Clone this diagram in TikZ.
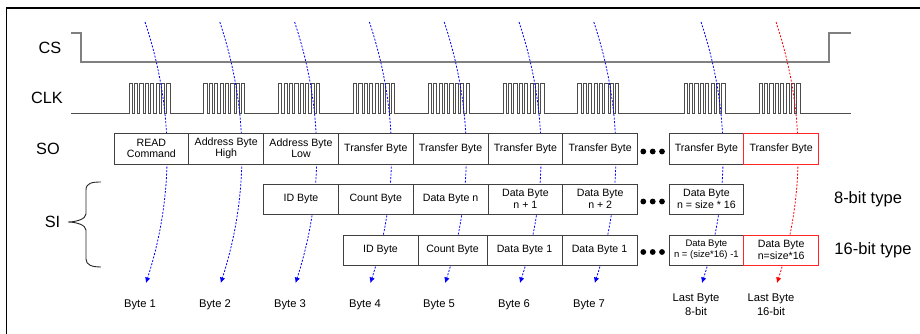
\documentclass[tikz,border=0pt]{standalone}
\usepackage{fontspec}
\setmainfont{Liberation Sans}
\usetikzlibrary{arrows.meta}

\tikzset{
  frame/.style={line width=1.3pt,black},
  csline/.style={line width=1.5pt,black!50},
  clkline/.style={line width=0.8pt,black!70},
  cell/.style={draw=black!75,line width=0.9pt,fill=white,minimum width=74.8pt,
    minimum height=30pt,inner sep=0pt,outer sep=0pt,anchor=north west,align=center,
    font=\fontsize{10.6}{11.3}\selectfont},
  hot/.style={draw=red!85!white},
  smallcell/.style={font=\fontsize{9.5}{11}\selectfont},
  signame/.style={font=\fontsize{16.3}{18}\selectfont,inner sep=0pt},
  bitlabel/.style={font=\fontsize{16.5}{18}\selectfont,inner sep=0pt},
  bytename/.style={font=\fontsize{11.2}{14}\selectfont,align=center,inner sep=0pt},
  flow/.style={blue,line width=0.8pt,dash pattern=on 2pt off 1.5pt,
    -{Latex[length=5.5pt,width=5.5pt]}},
  hotflow/.style={flow,red},
  ellip/.style={circle,fill=black,minimum size=5.8pt,inner sep=0pt},
  bracepath/.style={line width=0.9pt,black!85},
}

\begin{document}
\begin{tikzpicture}[x=1pt,y=-1pt]
\useasboundingbox (0,0) rectangle (920,334);

% outer frame (left and top edges)
\draw[frame] (6.7,336) -- (6.7,8) -- (922,8);

% signal names
\node[signame] (cs)  at (50,48)   {CS};
\node[signame] (clk) at (47,98)   {CLK};
\node[signame] (so)  at (48,149)  {SO};
\node[signame] (si)  at (52.5,222) {SI};

% chip select
\draw[csline] (71,33) -- (81,33) -- (81,62) -- (829,62) -- (829,33) -- (851,33);

% clock: nine bursts of eight pulses
\draw[clkline] (71,113)
  \foreach \s in {129,203.8,278.6,353.4,428.2,503,577.8,684,759}{
    \foreach \j in {0,...,7}{
      -- ({\s+5.4*\j},113) -- ({\s+5.4*\j},83) -- ({\s+5.4*\j+3.2},83) -- ({\s+5.4*\j+3.2},113)
    }
  } -- (851,113);

% byte sampling arcs
\foreach \n/\x in {1/145,2/219.8,3/294.6,4/369.4,5/444.2,6/519,7/593.8,8/701,9/776}{
  \coordinate (top\n) at (\x,22);
  \coordinate (tip\n) at ({\x+1},283);
}
\foreach \n in {1,...,8}{
  \draw[flow] (top\n) .. controls +(29,87) and +(28,-87) .. (tip\n);
}
\draw[hotflow] (top9) .. controls +(29,87) and +(28,-87) .. (tip9);

% SO row
\node[cell,minimum height=31pt] (so1) at (114,133)   {READ\\Command};
\node[cell,minimum height=31pt] (so2) at (188.8,133) {Address Byte\\High};
\node[cell,minimum height=31pt] (so3) at (263.6,133) {Address Byte\\Low};
\node[cell,minimum height=31pt] (so4) at (338.4,133) {Transfer Byte};
\node[cell,minimum height=31pt] (so5) at (413.2,133) {Transfer Byte};
\node[cell,minimum height=31pt] (so6) at (488,133)   {Transfer Byte};
\node[cell,minimum height=31pt] (so7) at (562.8,133) {Transfer Byte};
\node[ellip] (sod1) at (643.3,151.5) {};
\node[ellip] (sod2) at (652.7,151.5) {};
\node[ellip] (sod3) at (662,151.5) {};
\node[cell,minimum height=31pt] (so8) at (669,133)   {Transfer Byte};
\node[cell,minimum height=31pt,hot] (so9) at (743.8,133) {Transfer Byte};

% SI row, 8-bit type
\node[cell] (a1) at (263.6,184) {ID Byte};
\node[cell] (a2) at (338.4,184) {Count Byte};
\node[cell] (a3) at (413.2,184) {Data Byte n};
\node[cell] (a4) at (488,184)   {Data Byte\\n + 1};
\node[cell] (a5) at (562.8,184) {Data Byte\\n + 2};
\node[ellip] (ad1) at (643.3,201.5) {};
\node[ellip] (ad2) at (652.7,201.5) {};
\node[ellip] (ad3) at (662,201.5) {};
\node[cell] (a6) at (669,184)   {Data Byte\\n = size * 16};

% SI row, 16-bit type
\node[cell,minimum width=75pt] (b1) at (343,235) {ID Byte};
\node[cell,minimum width=69pt] (b2) at (418,235) {Count Byte};
\node[cell,minimum width=75pt] (b3) at (487,235) {Data Byte 1};
\node[cell,minimum width=75pt] (b4) at (562,235) {Data Byte 1};
\node[ellip] (bd1) at (643.3,252) {};
\node[ellip] (bd2) at (652.7,252) {};
\node[ellip] (bd3) at (662,252) {};
\node[cell,smallcell] (b5) at (669,235) {Data Byte\\n = (size*16) -1};
\node[cell,hot] (b6) at (743.8,235) {Data Byte\\n=size*16};

% type labels
\node[bitlabel] (t8)  at (868,199) {8-bit type};
\node[bitlabel] (t16) at (873,250) {16-bit type};

% SI brace
\draw[bracepath] (101,182) .. controls (92,182) and (86,183) .. (86,190) -- (86,214)
  .. controls (86,219) and (76,222) .. (68,222)
  .. controls (76,222) and (86,225) .. (86,230) -- (86,259)
  .. controls (86,265) and (92,267) .. (101,267);

% byte names
\node[bytename] (n1) at (140,305) {Byte 1};
\node[bytename] (n2) at (215,305) {Byte 2};
\node[bytename] (n3) at (290,305) {Byte 3};
\node[bytename] (n4) at (365,305) {Byte 4};
\node[bytename] (n5) at (439,305) {Byte 5};
\node[bytename] (n6) at (514,305) {Byte 6};
\node[bytename] (n7) at (589,305) {Byte 7};
\node[bytename] (n8) at (696,305) {Last Byte\\8-bit};
\node[bytename] (n9) at (771,305) {Last Byte\\16-bit};
\end{tikzpicture}
\end{document}
